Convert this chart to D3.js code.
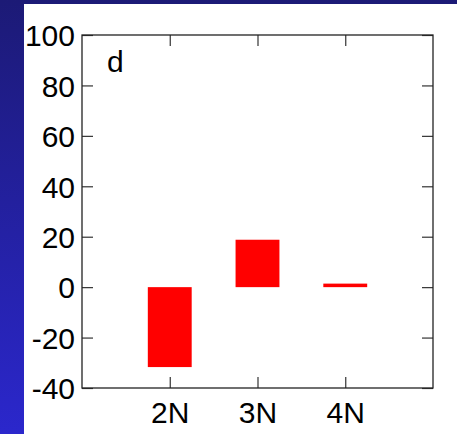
<!DOCTYPE html>
<html lang="en">
<head>
    <meta charset="UTF-8">
    <title>Bar chart d</title>
    <script src="https://d3js.org/d3.v7.min.js"></script>
    <style>
        body {
            margin: 0;
            padding: 0;
            background: #ffffff;
        }
        svg text {
            font-family: "Liberation Sans", Arial, sans-serif;
        }
    </style>
</head>
<body>
    <svg width="457" height="434"></svg>

    <script>
        // values
        const categories = ["2N", "3N", "4N"];
        const positions = [2, 3, 4];
        const values = [-31.7, 18.8, 1.4];
        const yTicks = [-40, -20, 0, 20, 40, 60, 80, 100];
        const panelLabel = "d";

        const svg = d3.select("svg");

        // blue slide background behind the white panel
        const defs = svg.append("defs");
        const grad = defs.append("linearGradient")
            .attr("id", "bg")
            .attr("x1", 0).attr("y1", 0)
            .attr("x2", 0).attr("y2", 1);
        grad.append("stop").attr("offset", "0%").attr("stop-color", "#1c1a76");
        grad.append("stop").attr("offset", "100%").attr("stop-color", "#2b27cc");

        svg.append("rect")
            .attr("width", 457).attr("height", 434)
            .attr("fill", "url(#bg)");
        svg.append("rect")
            .attr("x", 24).attr("y", 4)
            .attr("width", 433).attr("height", 430)
            .attr("fill", "#ffffff");

        const margin = { top: 35, right: 24, bottom: 46, left: 82 };
        const width = 457 - margin.left - margin.right;
        const height = 434 - margin.top - margin.bottom;

        const g = svg.append("g")
            .attr("transform", `translate(${margin.left},${margin.top})`);

        const x = d3.scaleLinear().domain([1, 5]).range([0, width]);
        const y = d3.scaleLinear().domain([-40, 100]).range([height, 0]);
        const barW = x(1.5) - x(1);

        // bars from zero to value
        g.selectAll("rect.bar")
            .data(values)
            .enter()
            .append("rect")
            .attr("class", "bar")
            .attr("x", (d, i) => x(positions[i]) - barW / 2)
            .attr("y", d => y(Math.max(0, d)))
            .attr("width", barW)
            .attr("height", d => Math.abs(y(d) - y(0)))
            .attr("fill", "#ff0000");

        const fontSize = "30px";

        // left axis
        const left = g.append("g")
            .call(d3.axisLeft(y).tickValues(yTicks).tickSize(-11).tickSizeOuter(0).tickPadding(7)
                .tickFormat(d => String(d)));
        left.selectAll("text")
            .attr("font-size", fontSize)
            .attr("fill", "#000")
            .attr("dy", "0.36em");

        // right axis, ticks only
        g.append("g")
            .attr("transform", `translate(${width},0)`)
            .call(d3.axisRight(y).tickValues(yTicks).tickSize(-11).tickSizeOuter(0).tickFormat(""));

        // bottom axis
        const bottom = g.append("g")
            .attr("transform", `translate(0,${height})`)
            .call(d3.axisBottom(x).tickValues(positions).tickSize(-11).tickSizeOuter(0)
                .tickFormat((d, i) => categories[i]));
        bottom.selectAll("text")
            .attr("font-size", fontSize)
            .attr("fill", "#000")
            .attr("y", 35)
            .attr("dy", 0);

        // top axis, ticks only
        g.append("g")
            .call(d3.axisTop(x).tickValues(positions).tickSize(-11).tickSizeOuter(0).tickFormat(""));

        g.selectAll(".domain").remove();
        g.selectAll(".tick line").attr("stroke", "#333").attr("stroke-width", 1.2);

        // frame
        g.append("rect")
            .attr("width", width).attr("height", height)
            .attr("fill", "none")
            .attr("stroke", "#222")
            .attr("stroke-width", 1.3);

        g.append("text")
            .attr("x", 25)
            .attr("y", 37)
            .attr("font-size", fontSize)
            .text(panelLabel);
    </script>
</body>
</html>
